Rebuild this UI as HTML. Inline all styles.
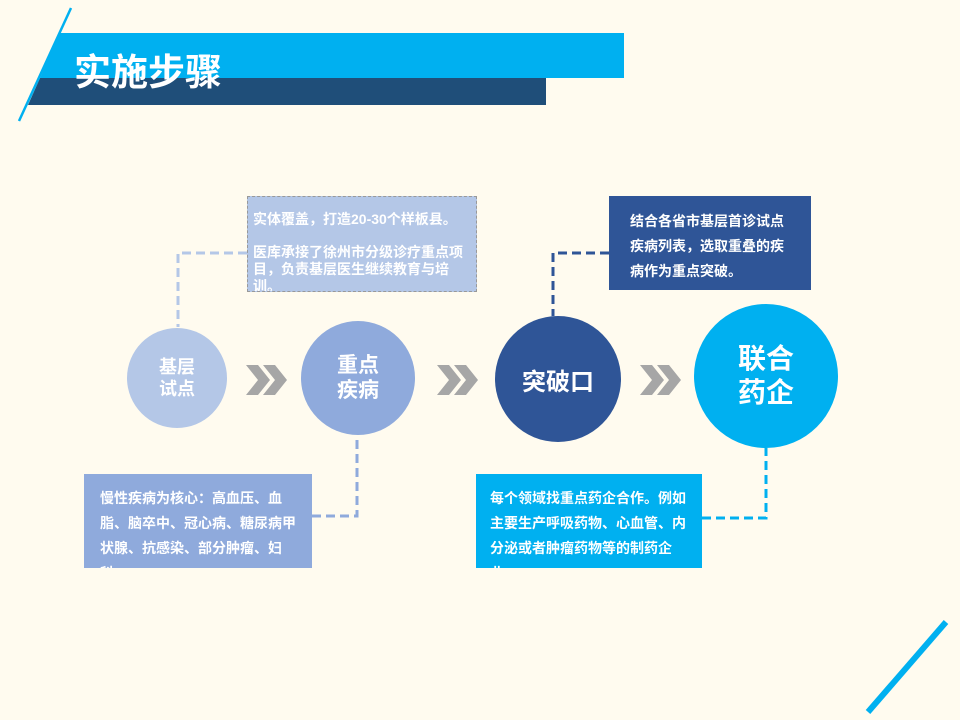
<!DOCTYPE html>
<html><head><meta charset="utf-8"><style>
body{margin:0;width:960px;height:720px;background:#fffbef;position:relative;overflow:hidden;font-family:"Liberation Sans","Noto Sans CJK SC",sans-serif;}
.a{position:absolute}
.c{position:absolute;border-radius:50%;color:#fff;font-weight:bold;display:flex;align-items:center;justify-content:center;text-align:center;}
.box{position:absolute;color:#fff;font-size:14px;font-weight:bold;overflow:hidden;box-sizing:border-box}
.t{position:absolute;white-space:nowrap}
</style></head><body>
<svg class="a" style="left:0;top:0" width="960" height="720">
<polygon points="60,33 624,33 624,78 40,78" fill="#00b0f0"/>
<polygon points="40,78 546,78 546,105 28,105" fill="#1f4e79"/>
<line x1="71" y1="8" x2="19" y2="121" stroke="#00b0f0" stroke-width="2.5"/>
<line x1="868" y1="712" x2="946" y2="622" stroke="#00b0f0" stroke-width="6"/>
<g fill="none" stroke-width="3" stroke-dasharray="9,5">
<polyline points="247,253 178,253 178,327" stroke="#b4c7e7"/>
<polyline points="312,516 357,516 357,435" stroke="#8faadc"/>
<polyline points="609,253 553,253 553,316" stroke="#2f5597"/>
<polyline points="702,518 766,518 766,448" stroke="#00b0f0"/>
</g>
<g fill="#a6a6a6">
<polygon points="246,365 258,365 270,380 258,395 246,395 258,380"/>
<polygon points="263,365 275,365 287,380 275,395 263,395 275,380"/>
<polygon points="437,365 449,365 461,380 449,395 437,395 449,380"/>
<polygon points="454,365 466,365 478,380 466,395 454,395 466,380"/>
<polygon points="640,365 652,365 664,380 652,395 640,395 652,380"/>
<polygon points="657,365 669,365 681,380 669,395 657,395 669,380"/>
</g>
</svg>
<div class="t" style="left:74px;top:42px;font-size:37px;font-weight:bold;color:#fff">实施步骤</div>

<div class="c" style="left:127px;top:328px;width:100px;height:100px;background:#b4c7e7;font-size:18px;line-height:22px">基层<br>试点</div>
<div class="c" style="left:301px;top:321px;width:114px;height:114px;background:#8faadc;font-size:21px;line-height:25px">重点<br>疾病</div>
<div class="c" style="left:495px;top:316px;width:126px;height:126px;background:#2f5597;font-size:24px">突破口</div>
<div class="c" style="left:694px;top:304px;width:144px;height:144px;background:#00b0f0;font-size:28px;line-height:34px">联合<br>药企</div>

<div class="box" style="left:247px;top:196px;width:230px;height:96px;background:#b4c7e7;border:1px dashed #999">
<div class="t" style="left:5px;top:12px">实体覆盖，打造20-30个样板县。</div>
<div class="t" style="left:5px;top:47px;line-height:17px">医库承接了徐州市分级诊疗重点项<br>目，负责基层医生继续教育与培<br>训。</div>
</div>
<div class="box" style="left:84px;top:474px;width:228px;height:94px;background:#8faadc">
<div class="t" style="left:16px;top:12px;line-height:25px">慢性疾病为核心：高血压、血<br>脂、脑卒中、冠心病、糖尿病甲<br>状腺、抗感染、部分肿瘤、妇<br>科...</div>
</div>
<div class="box" style="left:609px;top:196px;width:202px;height:94px;background:#2f5597">
<div class="t" style="left:21px;top:13px;line-height:25px">结合各省市基层首诊试点<br>疾病列表，选取重叠的疾<br>病作为重点突破。</div>
</div>
<div class="box" style="left:476px;top:474px;width:226px;height:94px;background:#00b0f0">
<div class="t" style="left:14px;top:12px;line-height:25px">每个领域找重点药企合作。例如<br>主要生产呼吸药物、心血管、内<br>分泌或者肿瘤药物等的制药企<br>业。</div>
</div>
</body></html>
